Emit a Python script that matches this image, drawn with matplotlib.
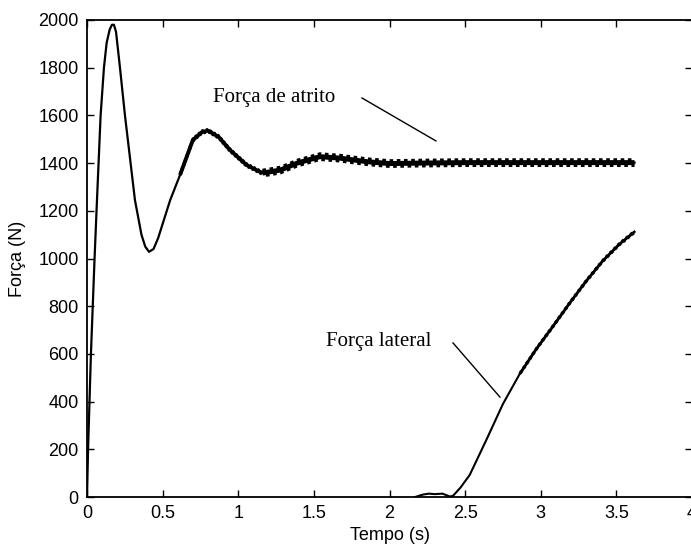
import matplotlib
matplotlib.use('Agg')
import matplotlib.pyplot as plt
import matplotlib.transforms as mtransforms
import numpy as np

plt.rcParams['lines.scale_dashes'] = False

# Força de atrito (N) vs tempo (s)
tempo_atrito = [0.0, 0.007, 0.026, 0.05, 0.066, 0.09, 0.112, 0.13, 0.15, 0.165, 0.178, 0.192,
                0.218, 0.251, 0.317, 0.36, 0.385, 0.41, 0.44, 0.47, 0.55, 0.615, 0.70,
                0.76, 0.80, 0.87, 0.945, 1.055, 1.16, 1.28, 1.39, 1.54, 1.67, 1.85,
                2.0, 2.2, 2.5, 3.0, 3.3, 3.62]
forca_atrito = [0, 200, 600, 1000, 1245, 1600, 1800, 1905, 1960, 1980, 1980, 1950,
                1800, 1600, 1245, 1100, 1050, 1028, 1040, 1085, 1245, 1350, 1497,
                1530, 1536, 1510, 1455, 1392, 1358, 1371, 1400, 1427, 1421, 1406,
                1398, 1400, 1402, 1402, 1402, 1402]

# Força lateral (N) vs tempo (s)
tempo_lateral = [2.17, 2.22, 2.26, 2.30, 2.35, 2.40, 2.42, 2.47, 2.53, 2.64, 2.75,
                 2.86, 2.97, 3.08, 3.19, 3.30, 3.41, 3.52, 3.62]
forca_lateral = [0, 10, 14, 12, 14, 2, 5, 40, 92, 239, 390,
                 515, 620, 715, 812, 905, 990, 1060, 1112]

x_ticks = [0, 0.5, 1, 1.5, 2, 2.5, 3, 3.5, 4]
x_tick_labels = ['0', '0.5', '1', '1.5', '2', '2.5', '3', '3.5', '4']
y_ticks = [0, 200, 400, 600, 800, 1000, 1200, 1400, 1600, 1800, 2000]

fig = plt.figure(figsize=(6.91, 5.54), dpi=100)
ax = fig.add_axes([87 / 691, 57 / 554, 605 / 691, 477 / 554])

ta = np.array(tempo_atrito)
fa = np.array(forca_atrito)
tl = np.array(tempo_lateral)
fl = np.array(forca_lateral)

ax.plot(ta, fa, color='black', lw=1.6, solid_joinstyle='round')

# ondulacao (serrilhado) desenhada com tracos deslocados
def serrilha(t, f, amp, lw_core, lw_dash, dash):
    ax.plot(t, f, color='black', lw=lw_core, solid_capstyle='butt')
    up = mtransforms.offset_copy(ax.transData, fig=fig, x=0, y=amp, units='dots')
    dn = mtransforms.offset_copy(ax.transData, fig=fig, x=0, y=-amp, units='dots')
    ax.plot(t, f, color='black', lw=lw_dash, transform=up,
            linestyle=(0, (dash, dash)), dash_capstyle='butt')
    ax.plot(t, f, color='black', lw=lw_dash, transform=dn,
            linestyle=(dash, (dash, dash)), dash_capstyle='butt')

m1 = (ta >= 0.6) & (ta <= 1.2)
m2 = ta >= 1.16
serrilha(ta[m1], fa[m1], 1.6, 2.8, 1.6, 1.6)
serrilha(ta[m2], fa[m2], 3.0, 3.6, 2.0, 2.6)

ax.plot(tl, fl, color='black', lw=1.5)
m3 = tl >= 2.8
serrilha(tl[m3], fl[m3], 1.5, 2.0, 1.2, 2.0)

# rotulos das curvas
ax.text(0.832, 1677, 'Força de atrito', family='Liberation Serif', fontsize=15,
        ha='left', va='center')
ax.plot([1.818, 2.307], [1673, 1493], color='black', lw=1.0)
ax.text(1.58, 650, 'Força lateral', family='Liberation Serif', fontsize=15,
        ha='left', va='center')
ax.plot([2.42, 2.73], [646, 419], color='black', lw=1.0)

ax.set_xlim(0, 4)
ax.set_ylim(0, 2000)
ax.set_xticks(x_ticks)
ax.set_xticklabels(x_tick_labels)
ax.set_yticks(y_ticks)
ax.tick_params(direction='in', length=5, width=1.0, top=True, right=True,
               labelsize=13, pad=6)
for lab in ax.get_xticklabels() + ax.get_yticklabels():
    lab.set_family('Liberation Sans')
for s in ax.spines.values():
    s.set_linewidth(1.3)

ax.set_xlabel('Tempo (s)', family='Liberation Sans', fontsize=13, labelpad=3)
ax.set_ylabel('Força (N)', family='Liberation Sans', fontsize=13, labelpad=9)

fig.savefig('out.png', dpi=100)
